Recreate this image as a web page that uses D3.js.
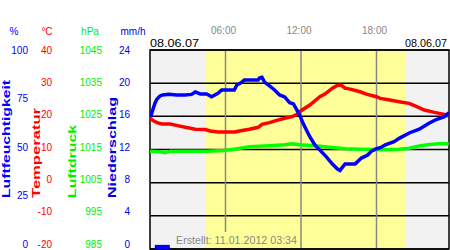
<!DOCTYPE html>
<html>
<head>
<meta charset="utf-8">
<script src="https://cdn.jsdelivr.net/npm/d3@7"></script>
<style>
  html, body { margin: 0; padding: 0; background: #fff; }
  svg { display: block; font-family: "Liberation Sans", Arial, sans-serif; }
</style>
</head>
<body>
<div id="chart"></div>
<script>
// Weather day chart 08.06.07 (hour, value)
const humidity = [
  [0.05, 66.5], [0.25, 70.5], [0.4, 73.4], [0.56, 75.4], [0.8, 76.9], [1.0, 77.4], [1.5, 77.7],
  [2.1, 77.4], [2.8, 77.4], [3.3, 77.7], [3.6, 78.9], [4.0, 77.9], [4.5, 77.9], [4.9, 76.5],
  [5.4, 78.2], [5.7, 79.9], [6.7, 79.9], [6.9, 82.4], [7.2, 83.4], [7.5, 84.9], [8.6, 84.9],
  [8.7, 85.9], [8.9, 86.3], [9.1, 83.9], [9.5, 82.0], [9.9, 79.9], [10.3, 77.4], [10.7, 76.4],
  [11.1, 73.5], [11.4, 72.9], [11.9, 67.3], [12.1, 64.0], [12.5, 58.9], [12.7, 56.4], [13.1, 52.3],
  [13.5, 49.7], [14.0, 46.4], [14.5, 42.7], [14.9, 40.2], [15.1, 39.5], [15.5, 42.7], [16.3, 42.7],
  [16.8, 45.7], [17.3, 47.2], [17.6, 49.2], [18.0, 50.4], [18.3, 50.9], [18.7, 52.3], [19.4, 53.9],
  [19.8, 55.6], [20.6, 58.3], [21.4, 60.2], [22.2, 63.3], [22.8, 65.2], [23.4, 66.5], [23.75, 68.5]
];
const temperature = [
  [0, 19.5], [0.24, 18.7], [0.56, 18.1], [0.95, 17.7], [1.6, 17.7], [2.2, 17.2], [2.8, 16.7],
  [3.6, 16.1], [4.4, 16.0], [4.8, 15.6], [5.4, 15.3], [6.0, 15.3], [6.75, 15.3], [7.1, 15.6],
  [7.9, 16.1], [8.6, 16.7], [8.9, 17.6], [9.5, 18.1], [10.0, 18.7], [10.7, 19.4], [11.3, 19.9],
  [11.7, 20.6], [12.0, 21.7], [12.7, 23.4], [13.5, 25.9], [13.9, 26.7], [14.5, 28.5], [14.9, 29.4],
  [15.2, 29.4], [15.5, 28.5], [15.9, 28.2], [16.7, 27.4], [17.2, 26.7], [18.0, 25.9], [18.3, 25.4],
  [19.05, 24.9], [19.8, 24.4], [20.6, 23.9], [21.2, 22.9], [21.8, 21.9], [22.6, 21.2], [23.4, 20.6],
  [23.75, 20.1]
];
const pressure = [
  [0, 1014.5], [0.8, 1014.3], [1.2, 1014.0], [1.6, 1014.5], [3.0, 1014.5], [4.5, 1014.5],
  [5.9, 1014.7], [6.7, 1015.1], [7.9, 1015.8], [9.5, 1016.1], [10.7, 1016.4], [11.3, 1016.7],
  [11.9, 1016.4], [13.1, 1016.1], [14.3, 1015.7], [15.5, 1015.2], [16.7, 1015.1], [18.0, 1015.0],
  [19.0, 1014.9], [19.8, 1015.1], [20.6, 1015.4], [21.4, 1016.1], [22.2, 1016.5], [23.0, 1016.7],
  [23.75, 1016.7]
];
// [from hour, to hour, mm/h]
const precipitation = [[0.3, 1.5, 0.5]];
const daylight = [4.45, 20.33];
const timeTicks = [6, 12, 18];
const humidityTicks = [0, 25, 50, 75, 100];
const tempTicks = [-20, -10, 0, 10, 20, 30, 40];
const pressureTicks = [985, 995, 1005, 1015, 1025, 1035, 1045];
const rainTicks = [0, 4, 8, 12, 16, 20, 24];
const dateLabel = '08.06.07';
const createdLabel = 'Erstellt: 11.01.2012 03:34';

const W = 450, H = 250;
const plot = { left: 150, right: 449, top: 50, bottom: 249 };

const svg = d3.select('#chart').append('svg')
  .attr('width', W).attr('height', H);

const x = d3.scaleLinear().domain([0, 24]).range([150, 452]);
const yHum = d3.scaleLinear().domain([0, 100]).range([plot.bottom, plot.top]);
const yTemp = d3.scaleLinear().domain([-20, 40]).range([plot.bottom, plot.top]);
const yPres = d3.scaleLinear().domain([985, 1045]).range([plot.bottom, plot.top]);
const yRain = d3.scaleLinear().domain([0, 24]).range([plot.bottom, plot.top]);
// tick labels on the left sit on a slightly shorter span
const yLab = d3.scaleLinear().domain([0, 1]).range([244, 50]);

svg.append('clipPath').attr('id', 'clip').append('rect')
  .attr('x', plot.left).attr('y', plot.top)
  .attr('width', plot.right - plot.left).attr('height', plot.bottom - plot.top);

// backgrounds: night grey, day yellow
svg.append('rect')
  .attr('x', plot.left).attr('y', plot.top)
  .attr('width', plot.right - plot.left).attr('height', plot.bottom - plot.top)
  .attr('fill', '#f2f2f2');
svg.append('rect')
  .attr('x', x(daylight[0])).attr('y', plot.top)
  .attr('width', x(daylight[1]) - x(daylight[0])).attr('height', plot.bottom - plot.top)
  .attr('fill', '#ffff99');

// horizontal grid
svg.append('g')
  .selectAll('line')
  .data(tempTicks)
  .join('line')
  .attr('x1', plot.left).attr('x2', plot.right)
  .attr('y1', d => yTemp(d)).attr('y2', d => yTemp(d))
  .attr('stroke', '#000').attr('stroke-width', 1.5);

// vertical time grid
svg.append('g')
  .selectAll('line')
  .data(timeTicks)
  .join('line')
  .attr('x1', d => x(d)).attr('x2', d => x(d))
  .attr('y1', plot.top)
  .attr('y2', d => d === 6 ? 232 : plot.bottom)
  .attr('stroke', '#888').attr('stroke-width', 1.5);

svg.append('g')
  .selectAll('text')
  .data(timeTicks)
  .join('text')
  .attr('x', d => x(d) - 2).attr('y', 34)
  .attr('text-anchor', 'middle')
  .attr('font-size', 10)
  .attr('fill', '#888')
  .text(d => d3.format('02')(d) + ':00');

// plot frame
svg.append('rect')
  .attr('x', plot.left).attr('y', plot.top)
  .attr('width', plot.right - plot.left).attr('height', plot.bottom - plot.top)
  .attr('fill', 'none').attr('stroke', '#000').attr('stroke-width', 1.5);

// -------- Precipitation bars --------
svg.append('g')
  .selectAll('rect')
  .data(precipitation)
  .join('rect')
  .attr('x', d => x(d[0]) + 1)
  .attr('width', d => x(d[1]) - x(d[0]))
  .attr('y', d => yRain(d[2]))
  .attr('height', d => yRain(0) - yRain(d[2]))
  .attr('fill', '#0000ff');

// -------- Lines --------
const lines = svg.append('g').attr('clip-path', 'url(#clip)');
function drawLine(data, yScale, color) {
  lines.append('path')
    .datum(data)
    .attr('fill', 'none')
    .attr('stroke', color)
    .attr('stroke-width', 3.5)
    .attr('stroke-linejoin', 'miter')
    .attr('d', d3.line().x(d => x(d[0])).y(d => yScale(d[1])));
}
drawLine(pressure, yPres, '#00ff00');
drawLine(temperature, yTemp, '#ff0000');
drawLine(humidity, yHum, '#0000ff');

// -------- Dates and footer --------
svg.append('text')
  .attr('x', 150).attr('y', 47)
  .attr('font-size', 11).attr('fill', '#000')
  .attr('textLength', 49).attr('lengthAdjust', 'spacingAndGlyphs')
  .text(dateLabel);
svg.append('text')
  .attr('x', 405).attr('y', 47)
  .attr('font-size', 11).attr('fill', '#000')
  .attr('textLength', 42).attr('lengthAdjust', 'spacingAndGlyphs')
  .text(dateLabel);
svg.append('text')
  .attr('x', 176).attr('y', 244)
  .attr('font-size', 10.5).attr('fill', '#888')
  .attr('textLength', 121).attr('lengthAdjust', 'spacingAndGlyphs')
  .text(createdLabel);

// -------- Left axes (labels only) --------
const axes = [
  { unit: '%', unitX: 14, ticks: humidityTicks, dom: [0, 100], right: 28, color: '#0000ff',
    title: 'Luftfeuchtigkeit', titleX: 10, titleLen: 118 },
  { unit: '°C', unitX: 47, ticks: tempTicks, dom: [-20, 40], right: 52, color: '#ff0000',
    title: 'Temperatur', titleX: 40, titleLen: 90 },
  { unit: 'hPa', unitX: 90, ticks: pressureTicks, dom: [985, 1045], right: 102, color: '#00ee00',
    title: 'Luftdruck', titleX: 76, titleLen: 73 },
  { unit: 'mm/h', unitX: 133, ticks: rainTicks, dom: [0, 24], right: 130, color: '#0000dd',
    title: 'Niederschlag', titleX: 116, titleLen: 101 }
];

axes.forEach(a => {
  const g = svg.append('g').attr('fill', a.color);
  g.append('text')
    .attr('x', a.unitX).attr('y', 35)
    .attr('text-anchor', 'middle').attr('font-size', 10)
    .text(a.unit);
  g.selectAll('text.tick')
    .data(a.ticks)
    .join('text')
    .attr('class', 'tick')
    .attr('x', a.right)
    .attr('y', d => yLab((d - a.dom[0]) / (a.dom[1] - a.dom[0])) + 3.5)
    .attr('text-anchor', 'end').attr('font-size', 10)
    .text(d => d);
  g.append('text')
    .attr('transform', `translate(${a.titleX},198) rotate(-90)`)
    .attr('font-size', 11.5).attr('font-weight', 'bold')
    .attr('textLength', a.titleLen).attr('lengthAdjust', 'spacingAndGlyphs')
    .text(a.title);
});
</script>
</body>
</html>
